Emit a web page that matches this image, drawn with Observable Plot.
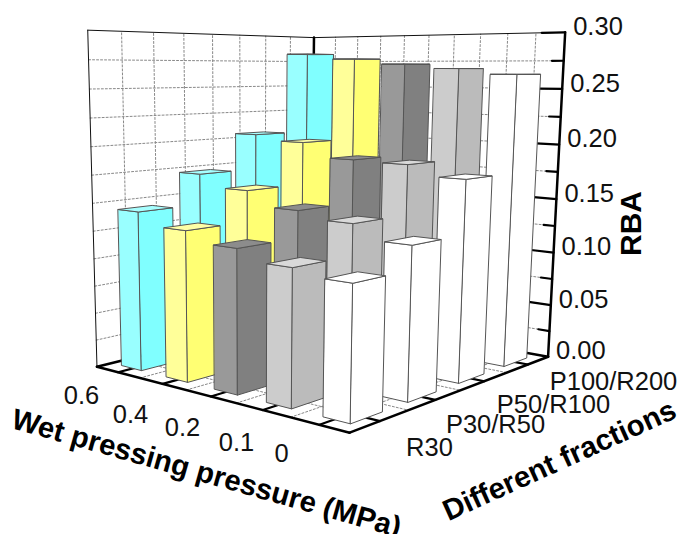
<!DOCTYPE html>
<html><head><meta charset="utf-8">
<script src="https://cdn.jsdelivr.net/npm/d3@7"></script>
<script src="https://cdn.jsdelivr.net/npm/@observablehq/plot@0.6"></script>
<style>html,body{margin:0;padding:0;background:#fff}svg{display:block}</style>
</head><body><div id="chart"></div>
<script>
// ---- data ----
const pressures = ["0.6", "0.4", "0.2", "0.1", "0"];
const fractions = ["R30", "P30/R50", "P50/R100", "P100/R200"];
const rbaR30   = [0.144, 0.133, 0.124, 0.115, 0.110];
const rbaP30   = [0.172, 0.161, 0.148, 0.142, 0.130];
const rbaP50   = [0.205, 0.200, 0.187, 0.186, 0.177];
const rbaP100  = [0.282, 0.277, 0.272, 0.268, 0.263];
const rbaTicks = [0, 0.05, 0.10, 0.15, 0.20, 0.25, 0.30];
const rbaMax = 0.30;
// ---- face colours per pressure ----
const faceLeft  = ["#99ffff", "#ffff99", "#999999", "#cccccc", "#ffffff"];
const faceRight = ["#80ffff", "#ffff73", "#808080", "#bbbbbb", "#ffffff"];
const faceTop   = ["#a6ffff", "#ffffa6", "#8c8c8c", "#d9d9d9", "#ffffff"];

// ---- 3D view: camera fitted to the box's corners and axis ticks ----
// [a, b, z, px, py]  a: along pressure axis, b: along fraction axis, z: height (all 0..1)
const calib = [
 [0,0,0,94,365],[1,0,0,355,435],[1,1,0,558,357],[0,0,1,87,27],[1,1,1,565,31],[0,1,1,313,39],
 [.1,0,0,117,372],[.3,0,0,163,383],[.5,0,0,213,397],[.7,0,0,265,411],[.9,0,0,325,427],
 [1,.125,0,371,419],[1,.375,0,428,398],[1,.625,0,478,379],[1,.875,0,523,362],
 [0,.5,1,213,33.5],[.5,1,1,428,36]
];
function fit(pts){
  const s = 500, A = Array.from({length:11},()=>new Array(12).fill(0));
  const add = (r,t)=>{ for(let i=0;i<11;i++){ for(let j=0;j<11;j++) A[i][j]+=r[i]*r[j]; A[i][11]+=r[i]*t; } };
  for(const [a,b,z,px,py] of pts){
    const u=px/s,v=py/s;
    add([a,b,z,1,0,0,0,0,-u*a,-u*b,-u*z],u);
    add([0,0,0,0,a,b,z,1,-v*a,-v*b,-v*z],v);
  }
  for(let c=0;c<11;c++){
    let p=c; for(let r=c+1;r<11;r++) if(Math.abs(A[r][c])>Math.abs(A[p][c])) p=r;
    [A[c],A[p]]=[A[p],A[c]];
    for(let r=0;r<11;r++) if(r!==c){ const f=A[r][c]/A[c][c]; for(let k=c;k<12;k++) A[r][k]-=f*A[c][k]; }
  }
  const m=A.map((r,i)=>r[11]/r[i]);
  return (a,b,z)=>{ const w=m[8]*a+m[9]*b+m[10]*z+1;
    return [s*(m[0]*a+m[1]*b+m[2]*z+m[3])/w, s*(m[4]*a+m[5]*b+m[6]*z+m[7])/w]; };
}
const project = fit(calib);
const zOf = d3.scaleLinear().domain([0,rbaMax]).range([0,1]);
const pt = (id,a,b,z)=>{ const [x,y]=project(a,b,z); return {id,x,y}; };
const seg = (id,p,q)=>[pt(id,...p),pt(id,...q)];

// ---- wall + floor grid ----
const grid=[]; const nA=pressures.length, nB=fractions.length, nZ=(rbaTicks.length-1)*2;
for(let k=1;k<nB*2;k++){ const b=k/(nB*2);
  grid.push(...seg("lw"+k,[0,b,0],[0,b,1]),...seg("fb"+k,[0,b,0],[1,b,0])); }
for(let k=1;k<nA*2;k++){ const a=k/(nA*2);
  grid.push(...seg("rw"+k,[a,1,0],[a,1,1]),...seg("fa"+k,[a,0,0],[a,1,0])); }
for(let k=1;k<nZ;k++){ const z=k/nZ;
  grid.push(...seg("lh"+k,[0,0,z],[0,1,z]),...seg("rh"+k,[0,1,z],[1,1,z])); }

// ---- box frame and ticks ----
const thin=[...seg("t1",[0,0,0],[0,0,1]),...seg("t2",[0,0,1],[0,1,1]),...seg("t3",[0,1,1],[1,1,1])];
const thick=[...seg("k1",[0,0,0],[1,0,0]),...seg("k2",[1,0,0],[1,1,0]),...seg("k3",[1,1,0],[1,1,1]),
  ...seg("k4",[0,0,0],[0,1,0]),...seg("k5",[0,1,0],[1,1,0]),...seg("k6",[0,1,0],[0,1,1])];
const ticks=[];
pressures.forEach((_,i)=>{const a=(i+.5)/nA; ticks.push(...seg("ta"+i,[a,0,0],[a,.085,0]));});
fractions.forEach((_,j)=>{const b=(j+.5)/nB; ticks.push(...seg("tb"+j,[1,b,0],[.93,b,0]));});
for(let k=1;k<=nZ;k++){ const major=k%2===0;
  ticks.push(...seg("tz"+k,[1,1,k/nZ],[major?.92:.96,1,k/nZ])); }

// ---- bars, painted back to front ----
const rows=[rbaR30,rbaP30,rbaP50,rbaP100];
const halfA=.23/nA, halfB=.27/nB;
const faces=[];
for(let j=nB-1;j>=0;j--) for(let i=0;i<nA;i++){
  const ca=(i+.5)/nA-.006+.004*i, cb=(j+.5)/nB, h=zOf(rows[j][i]);
  const a0=ca-halfA,a1=ca+halfA,b0=cb-halfB,b1=cb+halfB, id=`${j}-${i}`;
  const poly=(f,fill,c)=>c.forEach(p=>faces.push({...pt(id+f,...p),fill}));
  poly("L",faceLeft[i],[[a0,b0,0],[a1,b0,0],[a1,b0,h],[a0,b0,h]]);
  poly("R",faceRight[i],[[a1,b0,0],[a1,b1,0],[a1,b1,h],[a1,b0,h]]);
  poly("T",faceTop[i],[[a0,b0,h],[a1,b0,h],[a1,b1,h],[a0,b1,h]]);
}

// ---- labels ----
const pressureLabelPos=[[81,395],[130,414],[182,427],[236,442],[281,453]];
const fractionLabelPos=[[429,447],[495,424],[553,404],[613,381]];
const pLabels=pressures.map((t,i)=>({t,x:pressureLabelPos[i][0],y:pressureLabelPos[i][1]}));
const fLabels=fractions.map((t,i)=>({t,x:fractionLabelPos[i][0],y:fractionLabelPos[i][1]}));
const zLabels=rbaTicks.map(v=>{const [x,y]=project(1,1,zOf(v)); return {t:v.toFixed(2),x:x+8,y:y-5.5};});
const font="Liberation Sans, Arial, sans-serif";
const lab=(d,o)=>Plot.text(d,{x:"x",y:"y",text:"t",fontSize:25.5,fill:"#111",fontFamily:font,lineAnchor:"middle",...o});

const chart=Plot.plot({
  width:681,height:534,margin:0,
  x:{domain:[0,681],range:[0,681],axis:null},
  y:{domain:[0,534],range:[0,534],axis:null},
  color:{type:"identity"},
  marks:[
    Plot.line(grid,{x:"x",y:"y",z:"id",stroke:"#888",strokeWidth:1,strokeDasharray:"2,2"}),
    Plot.line(thin,{x:"x",y:"y",z:"id",stroke:"#111",strokeWidth:1}),
    Plot.line(thick,{x:"x",y:"y",z:"id",stroke:"#000",strokeWidth:2.5}),
    Plot.line(ticks,{x:"x",y:"y",z:"id",stroke:"#000",strokeWidth:2.2}),
    Plot.line(faces,{x:"x",y:"y",z:"id",fill:"fill",stroke:"#555",strokeWidth:1,curve:"linear-closed"}),
    lab(pLabels,{}),
    lab(fLabels,{}),
    lab(zLabels,{textAnchor:"start"}),
    Plot.text([{t:"RBA",x:631,y:223}],{x:"x",y:"y",text:"t",rotate:-90,fontSize:30,fontWeight:"bold",fill:"#000",fontFamily:font,lineAnchor:"middle"}),
    Plot.text([{t:"Wet pressing pressure (MPa)",x:206,y:473}],{x:"x",y:"y",text:"t",rotate:15.8,fontSize:29.3,fontWeight:"bold",fill:"#000",fontFamily:font,lineAnchor:"middle"}),
    Plot.text([{t:"Different fractions",x:559,y:460}],{x:"x",y:"y",text:"t",rotate:-24.4,fontSize:29.3,fontWeight:"bold",fill:"#000",fontFamily:font,lineAnchor:"middle"})
  ]
});
document.getElementById("chart").append(chart);
</script></body></html>
